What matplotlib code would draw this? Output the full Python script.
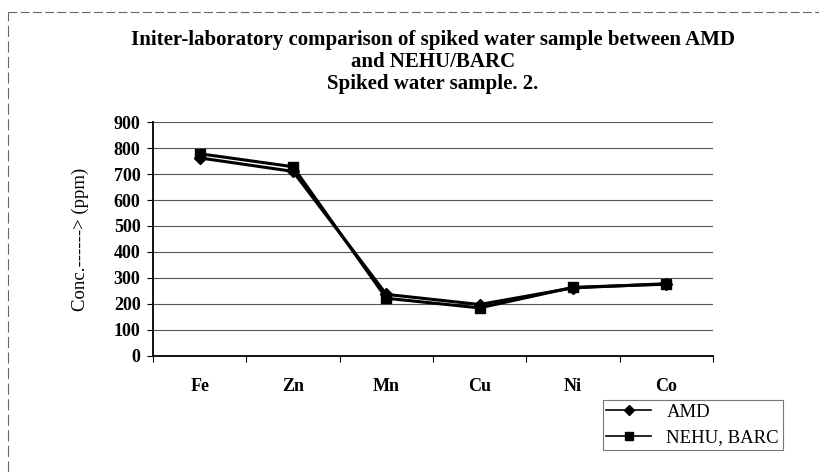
import matplotlib.pyplot as plt
import numpy as np
from matplotlib.lines import Line2D

elements = ['Fe', 'Zn', 'Mn', 'Cu', 'Ni', 'Co']
amd = [762, 710, 237, 198, 262, 278]
nehu_barc = [778, 728, 222, 185, 264, 276]
y_ticks = [0, 100, 200, 300, 400, 500, 600, 700, 800, 900]

plt.rcParams['font.family'] = ['Liberation Serif', 'DejaVu Serif']

fig = plt.figure(figsize=(8.2, 4.72), dpi=100)
ax = fig.add_axes([0.1866, 0.2458, 0.6829, 0.4957])

xs = np.arange(len(elements))
ax.plot(xs, nehu_barc, color='black', lw=2.2, marker='s', ms=7, label='NEHU, BARC', zorder=3)
ax.plot(xs, amd, color='black', lw=2.2, marker='D', ms=6, label='AMD', zorder=4)

ax.set_xlim(-0.5, len(elements) - 0.5)
ax.set_ylim(0, 900)
ax.set_yticks(y_ticks)
ax.set_yticklabels([str(v) for v in y_ticks], fontsize=13, fontweight='bold')
ax.set_xticks(xs)
ax.set_xticklabels(elements, fontsize=13, fontweight='bold')
ax.set_xticks(np.arange(-0.5, len(elements), 1), minor=True)
ax.tick_params(axis='x', which='major', length=0, pad=16)
ax.tick_params(axis='x', which='minor', length=4, width=0.8)
ax.tick_params(axis='y', length=4, width=0.8, pad=5)

ax.grid(axis='y', color='#555555', lw=0.8)
ax.set_axisbelow(True)
for s in ['top', 'right']:
    ax.spines[s].set_visible(False)
ax.spines['left'].set_linewidth(1.3)
ax.spines['bottom'].set_linewidth(1.3)

ax.set_ylabel('Conc.------> (ppm)', fontsize=13.5, labelpad=18)

fig.text(0.528, 0.915, 'Initer-laboratory comparison of spiked water sample between AMD',
         ha='center', va='center', fontsize=15, fontweight='bold')
fig.text(0.528, 0.869, 'and NEHU/BARC', ha='center', va='center', fontsize=15, fontweight='bold')
fig.text(0.528, 0.823, 'Spiked water sample. 2.', ha='center', va='center', fontsize=15, fontweight='bold')

handles = [
    Line2D([], [], color='black', lw=1.2, marker='D', ms=5),
    Line2D([], [], color='black', lw=1.2, marker='s', ms=6),
]
leg = fig.legend(handles, ['AMD', 'NEHU, BARC'], loc='upper left',
                 bbox_to_anchor=(0.735, 0.153), frameon=True, fancybox=False,
                 edgecolor='#555555', fontsize=13.5, handlelength=2.4,
                 borderpad=0.2, labelspacing=0.45, borderaxespad=0)
leg.get_frame().set_linewidth(0.8)

# outer frame of the scanned chart (top and left edges)
fig.add_artist(Line2D([0.01, 1.0], [0.975, 0.975], transform=fig.transFigure,
                      color='#666666', lw=0.8, ls=(0, (8, 3))))
fig.add_artist(Line2D([0.01, 0.01], [0.0, 0.975], transform=fig.transFigure,
                      color='#666666', lw=0.8, ls=(0, (10, 4))))

fig.savefig('out.png', dpi=100)
